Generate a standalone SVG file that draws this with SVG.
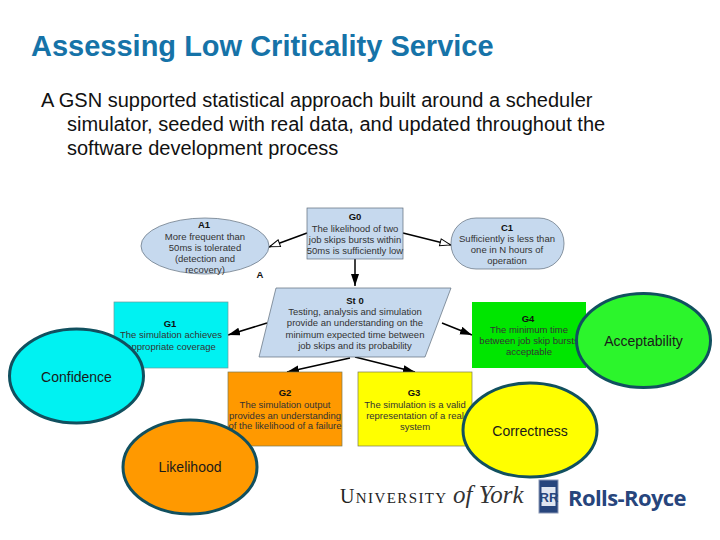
<svg xmlns="http://www.w3.org/2000/svg" width="720" height="540" viewBox="0 0 720 540">
<defs>
<marker id="solid" markerUnits="userSpaceOnUse" markerWidth="13" markerHeight="10" refX="12" refY="4" orient="auto"><path d="M0 0L12 4L0 8Z" fill="#000"/></marker>
<marker id="open" markerUnits="userSpaceOnUse" markerWidth="13" markerHeight="10" refX="12" refY="4" orient="auto"><path d="M1 0.500L11.500 4L1 7.500Z" fill="#fff" stroke="#000"/></marker>
</defs>
<style>
text{font-family:"Liberation Sans",Arial,sans-serif}
.title{font-size:29px;font-weight:700;fill:#1673a8}
.body{font-size:20px;fill:#111}
.n{font-size:9.500px;fill:#333;text-anchor:middle}
.h{font-size:9.500px;font-weight:700;fill:#111;text-anchor:middle}
.o{font-size:14px;fill:#1a1a1a;text-anchor:middle}
.pale{fill:#c6d9ee;stroke:#5d6b7a;stroke-width:.7}
.box{stroke:#7a7a50;stroke-width:.7}
.big{stroke:#11505f;stroke-width:3}
.c{stroke:#000;stroke-width:1.500;fill:none}
</style>
<rect width="720" height="540" fill="#fff"/>
<text class="title" x="31" y="56">Assessing Low Criticality Service</text>
<text class="body"><tspan x="41" y="107">A GSN supported statistical approach built around a scheduler</tspan><tspan x="67" y="131">simulator, seeded with real data, and updated throughout the</tspan><tspan x="67" y="155">software development process</tspan></text>
<g id="connectors">
<line class="c" x1="307" y1="233" x2="269" y2="247" marker-end="url(#open)"/>
<line class="c" x1="403" y1="233" x2="451" y2="245" marker-end="url(#open)"/>
<line class="c" x1="355" y1="259" x2="355" y2="286" marker-end="url(#solid)"/>
<line class="c" x1="267" y1="323" x2="228" y2="335" marker-end="url(#solid)"/>
<line class="c" x1="442" y1="323" x2="472" y2="335" marker-end="url(#solid)"/>
<line class="c" x1="350" y1="358" x2="287" y2="372" marker-end="url(#solid)"/>
<line class="c" x1="355" y1="357" x2="415" y2="372" marker-end="url(#solid)"/>
</g>
<g id="A1"><ellipse class="pale" cx="205" cy="246" rx="64" ry="28"/><text class="h" x="204" y="228">A1</text><text class="n"><tspan x="205" y="240">More frequent than</tspan><tspan x="205" y="251">50ms is tolerated</tspan><tspan x="205" y="262">(detection and</tspan><tspan x="205" y="273">recovery)</tspan></text></g>
<g id="A-label"><text class="h" x="260" y="278">A</text></g>
<g id="G0"><rect class="pale" x="307" y="208" width="96" height="51" stroke="none"/><text class="h" x="355" y="220">G0</text><text class="n"><tspan x="355" y="232">The likelihood of two</tspan><tspan x="355" y="243">job skips bursts within</tspan><tspan x="355" y="254">50ms is sufficiently low</tspan></text></g>
<g id="C1"><rect class="pale" x="451" y="218" width="113" height="51" rx="25" ry="25"/><text class="h" x="507" y="231">C1</text><text class="n"><tspan x="507" y="242">Sufficiently is less than</tspan><tspan x="507" y="253">one in N hours of</tspan><tspan x="507" y="264">operation</tspan></text></g>
<g id="St0"><path class="pale" d="M276 288H451L425 357H259Z"/><text class="h" x="355" y="304">St 0</text><text class="n"><tspan x="355" y="315">Testing, analysis and simulation</tspan><tspan x="355" y="326">provide an understanding on the</tspan><tspan x="355" y="338">minimum expected time between</tspan><tspan x="355" y="349">job skips and its probability</tspan></text></g>
<g id="G1"><rect x="114" y="302" width="114" height="66" fill="#00f2f2" stroke="#6a9a9a" stroke-width=".7"/><text class="h" x="170" y="327">G1</text><text class="n"><tspan x="171" y="338">The simulation achieves</tspan><tspan x="171" y="350">appropriate coverage</tspan></text></g>
<g id="G4"><rect x="472" y="302" width="114" height="66" fill="#00e600"/><text class="h" x="528" y="322">G4</text><text class="n"><tspan x="529" y="333">The minimum time</tspan><tspan x="529" y="344">between job skip bursts</tspan><tspan x="529" y="355">acceptable</tspan></text></g>
<g id="G2"><rect class="box" x="228" y="372" width="114" height="74" fill="#ff9900"/><text class="h" x="285" y="396">G2</text><text class="n"><tspan x="285" y="408">The simulation output</tspan><tspan x="285" y="419">provides an understanding</tspan><tspan x="285" y="429">of the likelihood of a failure</tspan></text></g>
<g id="G3"><rect class="box" x="358" y="372" width="114" height="74" fill="#ffff00"/><text class="h" x="414" y="396">G3</text><text class="n"><tspan x="415" y="408">The simulation is a valid</tspan><tspan x="415" y="419">representation of a real</tspan><tspan x="415" y="430">system</tspan></text></g>
<g id="Acceptability"><ellipse class="big" cx="643.500" cy="340.500" rx="67" ry="47" fill="#2cf52c"/><text class="o" x="643.500" y="346">Acceptability</text></g>
<g id="Confidence"><ellipse class="big" cx="76.500" cy="376" rx="67" ry="47" fill="#00f2f2"/><text class="o" x="76.500" y="382">Confidence</text></g>
<g id="Likelihood"><ellipse class="big" cx="190" cy="467" rx="67" ry="47" fill="#ff9900"/><text class="o" x="190" y="472">Likelihood</text></g>
<g id="Correctness"><ellipse class="big" cx="530" cy="430" rx="67" ry="47" fill="#ffff00"/><text class="o" x="530" y="436">Correctness</text></g>
<g id="logos">
<text x="340" y="503" style="font-family:'Liberation Serif',serif;font-size:20px;letter-spacing:1.400px" fill="#222">U<tspan style="font-size:15px">NIVERSITY</tspan></text>
<text x="453" y="503" style="font-family:'Liberation Serif',serif;font-size:25px;font-style:italic" fill="#333">of York</text>
<rect x="539" y="480" width="19" height="33" fill="#27457c" stroke="#8a97b5"/>
<rect x="541.500" y="487" width="14" height="19" fill="#dfe5f0"/>
<text x="549" y="502" text-anchor="middle" style="font-size:13px;font-weight:700" fill="#27457c">RR</text>
<text x="568" y="506" style="font-family:'Open Sans','Liberation Sans',sans-serif;font-size:22px;font-weight:700;letter-spacing:-.6px" fill="#27457c">Rolls-Royce</text>
</g>
</svg>
